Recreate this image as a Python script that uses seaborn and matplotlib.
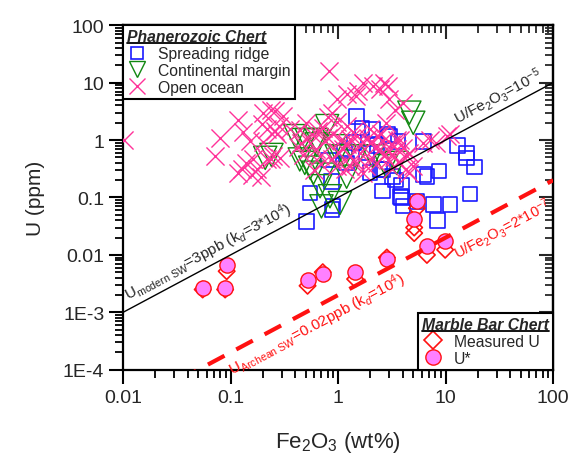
import numpy as np
import matplotlib
matplotlib.use('Agg')
import matplotlib.pyplot as plt
import seaborn as sns
from matplotlib.lines import Line2D
from matplotlib.ticker import FixedLocator, FixedFormatter, NullFormatter

# Phanerozoic chert: spreading ridge (Fe2O3 wt%, U ppm)
ridge_fe = [0.51, 0.55, 0.81, 0.87, 0.9, 0.88, 1.15, 1.2, 1.4, 1.48, 1.67, 1.83, 1.98, 2.1,
            2.3, 2.45, 2.6, 2.6, 2.9, 3.0, 3.2, 3.4, 3.6, 3.8, 3.9, 3.9, 4.0, 5.4, 6.2, 6.2,
            6.7, 7.7, 8.4, 8.7, 11.0, 12.9, 15.6, 15.6, 16.8, 18.6]
ridge_u = [0.038, 0.12, 0.45, 0.19, 0.071, 0.062, 0.64, 0.4, 0.9, 2.6, 1.63, 0.6, 0.27, 1.53,
           0.8, 0.31, 0.13, 0.31, 1.26, 1.17, 0.23, 0.2, 0.95, 0.105, 0.16, 0.10, 0.071, 0.085, 0.95, 0.25,
           0.23, 0.075, 0.04, 0.29, 0.075, 0.81, 0.6, 0.49, 0.115, 0.34]

# continental margin
margin_fe = [0.21, 0.24, 0.40, 0.44, 0.47, 0.49, 0.51, 0.55, 0.59, 0.63, 0.63, 0.68, 0.70,
             0.73, 0.79, 0.84, 0.93, 0.97, 1.04, 1.15, 1.2, 1.48, 2.1, 2.8, 3.5, 4.6, 5.0]
margin_u = [0.49, 0.55, 1.17, 0.46, 1.0, 0.40, 1.0, 0.33, 0.27, 1.0, 0.84, 0.157, 0.07,
            0.25, 1.75, 0.105, 0.78, 0.52, 0.08, 0.52, 0.23, 0.52, 0.52, 0.35, 0.4, 3.0, 2.0]

# open ocean
ocean_fe = [0.0102, 0.071, 0.080, 0.118, 0.118, 0.127, 0.13, 0.14, 0.152, 0.157, 0.162, 0.175,
            0.19, 0.195, 0.20, 0.20, 0.216, 0.216, 0.24, 0.24, 0.25, 0.26, 0.26, 0.27, 0.28,
            0.29, 0.31, 0.36, 0.42, 0.44, 0.45, 0.47, 0.5, 0.55, 0.57, 0.6, 0.62, 0.65, 0.68,
            0.7, 0.72, 0.75, 0.8, 0.81, 0.83, 0.87, 0.87, 0.9, 0.97, 0.97, 0.97, 1.0, 1.07,
            1.1, 1.15, 1.2, 1.2, 1.2, 1.28, 1.3, 1.3, 1.37, 1.48, 1.48, 1.5, 1.54, 1.6, 1.6,
            1.7, 1.71, 1.8, 1.9, 1.98, 1.98, 2.0, 2.1, 2.2, 2.3, 2.3, 2.45, 2.45, 2.5, 2.6,
            2.7, 2.7, 2.8, 2.9, 2.9, 3.0, 3.0, 3.1, 3.2, 3.3, 3.4, 3.5, 3.5, 3.6, 3.8, 4.0,
            4.0, 4.3, 4.4, 4.6, 4.6, 5.0, 6.2, 7.2, 8.2, 10.2, 11.0]
ocean_u = [1.0, 0.52, 1.07, 2.2, 0.27, 0.31, 1.4, 0.40, 0.95, 0.25, 0.46, 0.31,
           0.23, 1.87, 3.0, 0.92, 1.53, 0.46, 3.4, 0.46, 0.52, 1.45, 3.2, 1.26, 1.75,
           0.49, 2.6, 1.53, 0.75, 1.5, 0.9, 0.55, 2.0, 0.9, 1.26, 0.3, 0.7, 1.45, 0.52,
           0.38, 1.65, 0.95, 1.1, 2.5, 15.7, 3.0, 0.46, 1.3, 2.1, 0.35, 5.1, 0.62, 1.0,
           0.69, 0.31, 6.3, 1.75, 0.85, 0.52, 1.05, 0.35, 1.37, 0.4, 5.8, 1.2, 7.1, 0.6, 0.85,
           0.27, 10.0, 0.35, 1.1, 1.53, 0.46, 0.9, 8.7, 0.75, 1.17, 0.4, 7.6, 0.69, 1.3, 0.95,
           10.0, 0.55, 2.0, 8.7, 0.45, 5.1, 0.65, 0.84, 0.31, 0.5, 3.4, 1.02, 0.69, 0.42, 1.0, 4.5,
           0.73, 0.31, 0.52, 0.6, 0.27, 0.35, 0.9, 1.0, 0.9, 1.17, 1.3]

# Marble Bar chert
mb_fe = [0.055, 0.089, 0.092, 0.52, 0.72, 1.44, 2.84, 5.1, 5.1, 5.4, 6.7, 9.9]
mb_measured = [0.0025, 0.0025, 0.0052, 0.0029, 0.005, 0.0038, 0.009, 0.03, 0.024, 0.065, 0.010, 0.0123]
star_fe = [0.055, 0.089, 0.092, 0.52, 0.72, 1.44, 2.84, 5.1, 5.4, 6.7, 9.9]
mb_ustar = [0.0027, 0.0027, 0.0068, 0.0036, 0.0047, 0.005, 0.0086, 0.042, 0.088, 0.0141, 0.0172]

# reference lines: U/Fe2O3 ratios (Fe2O3 wt% -> ppm)
line_fe = np.array([0.01, 100])
ratio_modern = 1e-5
ratio_archean = 2e-7

xticks = [0.01, 0.1, 1, 10, 100]
xtick_labels = ['0.01', '0.1', '1', '10', '100']
yticks = [1e-4, 1e-3, 1e-2, 0.1, 1, 10, 100]
ytick_labels = ['1E-4', '1E-3', '0.01', '0.1', '1', '10', '100']

blue = '#1a1aff'
green = '#118811'
pink = '#ff3399'
red = '#ff1111'
violet = '#ff80ff'

sns.set_style('ticks')
plt.rcParams['font.family'] = ['Liberation Sans', 'DejaVu Sans']
plt.rcParams['mathtext.fontset'] = 'custom'
plt.rcParams['mathtext.rm'] = 'Liberation Sans'
plt.rcParams['mathtext.it'] = 'Liberation Sans:italic'
plt.rcParams['mathtext.bf'] = 'Liberation Sans:bold'

fig, ax = plt.subplots(figsize=(5.75, 4.6), dpi=100)
fig.subplots_adjust(left=0.214, right=0.962, top=0.943, bottom=0.194)
ax.set_xscale('log')
ax.set_yscale('log')
ax.set_xlim(0.01, 100)
ax.set_ylim(1e-4, 100)

sns.scatterplot(x=ridge_fe, y=ridge_u, marker='s', s=110, facecolor='none', edgecolor=blue,
                linewidth=1.2, ax=ax, legend=False, zorder=3)
sns.scatterplot(x=margin_fe, y=margin_u, marker='v', s=280, facecolor='none', edgecolor=green,
                linewidth=1.0, ax=ax, legend=False, zorder=3)
sns.scatterplot(x=ocean_fe, y=ocean_u, marker='x', s=170, color=pink,
                linewidth=1.0, ax=ax, legend=False, zorder=3)
sns.scatterplot(x=mb_fe, y=mb_measured, marker='D', s=70, facecolor='none', edgecolor=red,
                linewidth=1.2, ax=ax, legend=False, zorder=4)
sns.scatterplot(x=star_fe, y=mb_ustar, marker='o', s=120, color=violet, edgecolor=red,
                linewidth=1.0, ax=ax, legend=False, zorder=5)

ax.plot(line_fe, line_fe * 1e4 * ratio_modern, color='black', lw=1.0, zorder=6)
ax.plot(line_fe, line_fe * 1e4 * ratio_archean, color=red, lw=3.0, dashes=(4.5, 3.2), zorder=6)

# ticks: out on bottom/left, in on top/right
ax.xaxis.set_major_locator(FixedLocator(xticks))
ax.xaxis.set_major_formatter(FixedFormatter(xtick_labels))
ax.yaxis.set_major_locator(FixedLocator(yticks))
ax.yaxis.set_major_formatter(FixedFormatter(ytick_labels))
ax.xaxis.set_minor_formatter(NullFormatter())
ax.yaxis.set_minor_formatter(NullFormatter())
ax.tick_params(which='major', direction='out', length=10, width=1.5, labelsize=14, color='black')
ax.tick_params(which='minor', direction='out', length=6, width=1.3, color='black')
for sp in ax.spines.values():
    sp.set_linewidth(1.6)
    sp.set_color('black')

secx = ax.secondary_xaxis('top')
secx.tick_params(which='major', direction='in', length=10, width=1.5, labeltop=False)
secx.tick_params(which='minor', direction='in', length=6, width=1.3)
secx.xaxis.set_major_locator(FixedLocator(xticks))
secx.xaxis.set_major_formatter(NullFormatter())
secx.xaxis.set_minor_formatter(NullFormatter())
secy = ax.secondary_yaxis('right')
secy.tick_params(which='major', direction='in', length=10, width=1.5, labelright=False)
secy.tick_params(which='minor', direction='in', length=6, width=1.3)
secy.yaxis.set_major_locator(FixedLocator(yticks))
secy.yaxis.set_major_formatter(NullFormatter())
secy.yaxis.set_minor_formatter(NullFormatter())
for s in (secx, secy):
    for sp in s.spines.values():
        sp.set_linewidth(1.6)

ax.set_xlabel('Fe$_2$O$_3$ (wt%)', fontsize=16, labelpad=17)
ax.set_ylabel('U (ppm)', fontsize=15, labelpad=13)

# annotations along the ratio lines
p1 = ax.transData.transform((0.01, 1e-3))
p2 = ax.transData.transform((100, 10))
angle = np.degrees(np.arctan2(p2[1] - p1[1], p2[0] - p1[0]))

ax.text(13.5, 13.5 * 1e4 * ratio_modern * 1.2, r'U/Fe$_2$O$_3$=10$^{-5}$', rotation=angle,
        rotation_mode='anchor', ha='left', va='bottom', fontsize=11, zorder=7)
ax.text(0.0118, 0.0118 * 1e4 * ratio_modern * 1.15,
        r'U$_{\mathrm{modern\ SW}}$=3ppb (k$_d$=3*10$^4$)', rotation=angle,
        rotation_mode='anchor', ha='left', va='bottom', fontsize=11, zorder=7)
ax.text(11.0, 11.0 * 1e4 * ratio_archean * 0.7, r'U/Fe$_2$O$_3$=2*10$^{-7}$', rotation=angle,
        rotation_mode='anchor', ha='left', va='top', fontsize=10.5, color=red, zorder=7)
ax.text(0.088, 0.088 * 1e4 * ratio_archean * 0.8,
        r'U$_{\mathrm{Archean\ SW}}$=0.02ppb (k$_d$=10$^4$)', rotation=angle,
        rotation_mode='anchor', ha='left', va='top', fontsize=11, color=red, zorder=7)

# legends
ph_handles = [
    Line2D([], [], ls='none', marker='s', ms=9, mfc='none', mec=blue, mew=1.2),
    Line2D([], [], ls='none', marker='v', ms=12, mfc='none', mec=green, mew=1.0),
    Line2D([], [], ls='none', marker='x', ms=11, color=pink, mew=1.0),
]
leg_kw = dict(borderaxespad=0, fancybox=False, framealpha=1, edgecolor='black',
              fontsize=11.3, alignment='left', labelspacing=0.12, handletextpad=0.7,
              borderpad=0.25, handlelength=1.3,
              title_fontproperties={'weight': 'bold', 'style': 'italic', 'size': 11.3})
leg1 = ax.legend(ph_handles, ['Spreading ridge', 'Continental margin', 'Open ocean'],
                 title='Phanerozoic Chert', loc='upper left', **leg_kw)
leg1.get_frame().set_linewidth(1.5)
leg1.set_zorder(10)
ax.add_artist(leg1)

mb_handles = [
    Line2D([], [], ls='none', marker='D', ms=9, mfc='none', mec=red, mew=1.2),
    Line2D([], [], ls='none', marker='o', ms=11, mfc=violet, mec=red, mew=1.0),
]
leg2 = ax.legend(mb_handles, ['Measured U', 'U*'], title='Marble Bar Chert',
                 loc='lower right', **leg_kw)
leg2.get_frame().set_linewidth(1.5)
leg2.set_zorder(10)

# underline legend titles
fig.canvas.draw()
for lg in (leg1, leg2):
    bb = lg.get_title().get_window_extent()
    line = Line2D([bb.x0, bb.x1], [bb.y0 + 1, bb.y0 + 1], transform=None, color='black', lw=1.3)
    fig.add_artist(line)

fig.savefig('out.png', dpi=100)
